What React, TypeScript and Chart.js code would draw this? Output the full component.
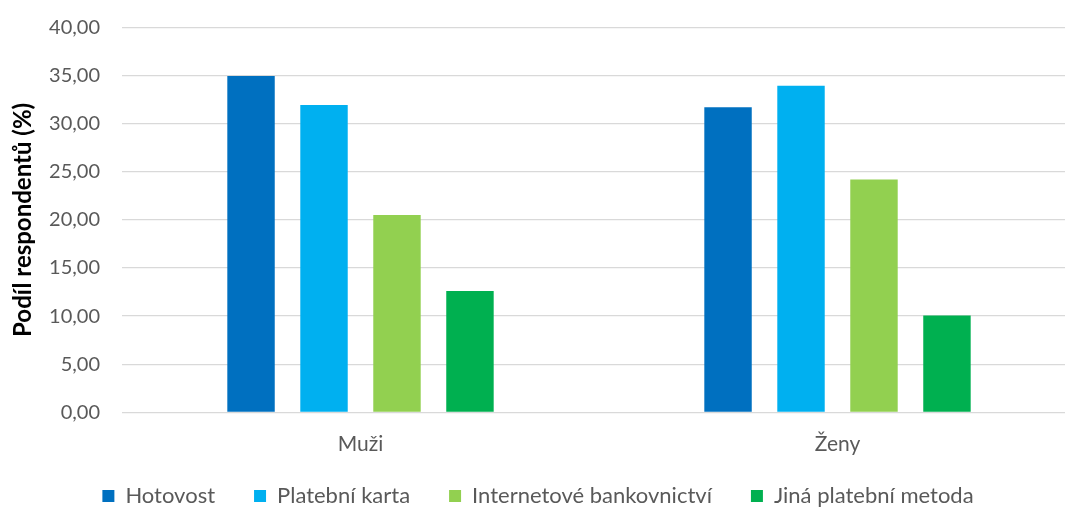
import React, { useEffect, useRef } from "react";
import { Chart, registerables } from "chart.js";

Chart.register(...registerables);

// Respondent share by gender and preferred payment method
const categories = ["Muži", "Ženy"];
const seriesNames = ["Hotovost", "Platební karta", "Internetové bankovnictví", "Jiná platební metoda"];
const hotovost = [34.95, 31.7];
const platebniKarta = [31.95, 33.95];
const internetoveBankovnictvi = [20.5, 24.2];
const jinaMetoda = [12.6, 10.05];
const seriesColors = ["#0070C0", "#00B0F0", "#92D050", "#00B050"];
const yTitle = "Podíl respondentů (%)";

const FONT = "Lato, 'Noto Sans', sans-serif";

export default function App() {
  const canvasRef = useRef<HTMLCanvasElement | null>(null);

  useEffect(() => {
    const canvas = canvasRef.current;
    if (!canvas) return;
    const values = [hotovost, platebniKarta, internetoveBankovnictvi, jinaMetoda];
    const chart = new Chart(canvas, {
      type: "bar",
      data: {
        labels: categories,
        datasets: seriesNames.map((name, i) => ({
          label: name,
          data: values[i],
          backgroundColor: seriesColors[i],
          borderWidth: 0,
          categoryPercentage: 0.612,
          barPercentage: 0.65,
        })),
      },
      options: {
        responsive: false,
        animation: false,
        devicePixelRatio: 1,
        layout: { padding: { top: 27.5, left: 0, right: 0, bottom: 1 } },
        plugins: {
          tooltip: { enabled: false },
          legend: {
            position: "bottom",
            labels: {
              boxWidth: 12,
              boxHeight: 12,
              padding: 39,
              color: "#595959",
              font: { family: FONT, size: 22 },
            },
          },
        },
        scales: {
          x: {
            grid: { display: false, drawTicks: false },
            border: { display: false },
            ticks: {
              color: "#595959",
              mirror: true,
              padding: -44.8,
              font: { family: FONT, size: 21 },
            },
            afterFit: (s: any) => {
              s.height = 33.7;
            },
          },
          y: {
            min: 0,
            max: 40,
            grid: {
              color: "#d9d9d9",
              lineWidth: 1.3,
              drawTicks: true,
              tickLength: 22,
              tickColor: "rgba(0,0,0,0)",
            },
            border: { display: false },
            ticks: {
              stepSize: 5,
              color: "#595959",
              padding: 0,
              font: { family: FONT, size: 20 },
              callback: (v: any) => Number(v).toFixed(2).replace(".", ","),
            },
            title: {
              display: true,
              text: yTitle,
              color: "#000000",
              padding: { top: 8.6, bottom: 0 },
              font: { family: FONT, size: 24, weight: "bold" },
            },
            afterFit: (s: any) => {
              s.width = 122;
            },
          },
        },
      },
    });
    return () => chart.destroy();
  }, []);

  return (
    <div
      style={{
        position: "fixed",
        left: 0,
        top: 0,
        width: 1065,
        height: 507,
        overflow: "hidden",
        background: "#ffffff",
      }}
    >
      <canvas ref={canvasRef} width={1076} height={518} style={{ display: "block" }} />
    </div>
  );
}
